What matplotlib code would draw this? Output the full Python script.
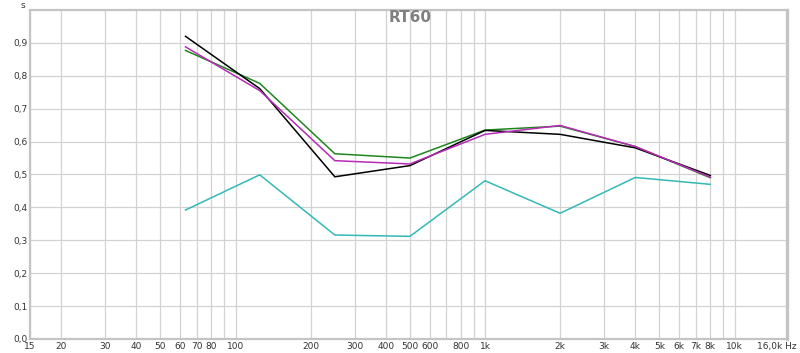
import matplotlib.pyplot as plt
from matplotlib.ticker import FixedLocator, NullFormatter

# octave band centres (Hz) and RT60 values (s)
freqs = [63, 125, 250, 500, 1000, 2000, 4000, 8000]
rt_black = [0.920, 0.761, 0.493, 0.527, 0.634, 0.622, 0.581, 0.497]
rt_green = [0.877, 0.777, 0.563, 0.550, 0.635, 0.647, 0.585, 0.490]
rt_magenta = [0.888, 0.755, 0.542, 0.532, 0.622, 0.649, 0.585, 0.492]
rt_cyan = [0.392, 0.499, 0.316, 0.312, 0.481, 0.382, 0.491, 0.470]

tick_freqs = [15, 20, 30, 40, 50, 60, 70, 80, 100, 200, 300, 400, 500, 600,
              800, 1000, 2000, 3000, 4000, 5000, 6000, 7000, 8000, 10000]
tick_labels = ['15', '20', '30', '40', '50', '60', '70', '80', '100', '200', '300',
               '400', '500', '600', '800', '1k', '2k', '3k', '4k', '5k', '6k', '7k',
               '8k', '10k']
end_label = '16,0k Hz'
y_ticks = [0.0, 0.1, 0.2, 0.3, 0.4, 0.5, 0.6, 0.7, 0.8, 0.9]

fig = plt.figure(figsize=(8, 3.53), dpi=100)
ax = fig.add_axes([0.0375, 0.0397, 0.946, 0.932])

ax.plot(freqs, rt_cyan, color='#33b8b8', lw=1.1)
ax.plot(freqs, rt_green, color='#1e861e', lw=1.1)
ax.plot(freqs, rt_black, color='black', lw=1.1)
ax.plot(freqs, rt_magenta, color='#b82ab8', lw=1.1)

ax.set_xscale('log')
ax.set_xlim(15, 16200)
ax.set_ylim(0, 1.0)

# grid at every 1-2-3..9 step, labels only on some
grid_x = [m * 10 ** e for e in range(1, 5) for m in range(1, 10)]
grid_x = [g for g in grid_x if 15 < g < 16000]
ax.xaxis.set_major_locator(FixedLocator(tick_freqs))
ax.set_xticklabels(tick_labels)
ax.xaxis.set_minor_locator(FixedLocator(grid_x))
ax.xaxis.set_minor_formatter(NullFormatter())
ax.set_yticks(y_ticks)
ax.set_yticklabels([f'{v:.1f}'.replace('.', ',') for v in y_ticks])

ax.grid(True, which='both', color='#d2d2d2', lw=0.9)
ax.tick_params(which='both', length=0, labelsize=6.5, labelcolor='#333333', pad=2)
for s in ax.spines.values():
    s.set_color('#c4c4c4')
    s.set_linewidth(1.6)
ax.spines['right'].set_linewidth(2.4)

fig.text(797 / 800, 1 - 346 / 353, end_label, fontsize=6.5, color='#333333',
         ha='right', va='center')
fig.text(0.5125, 1 - 17 / 353, 'RT60', ha='center', va='center',
         fontsize=11, fontweight='bold', color='#808080')
fig.text(23 / 800, 1 - 5 / 353, 's', fontsize=6.5, color='#333333', ha='center', va='center')

plt.savefig('out.png', dpi=100)
